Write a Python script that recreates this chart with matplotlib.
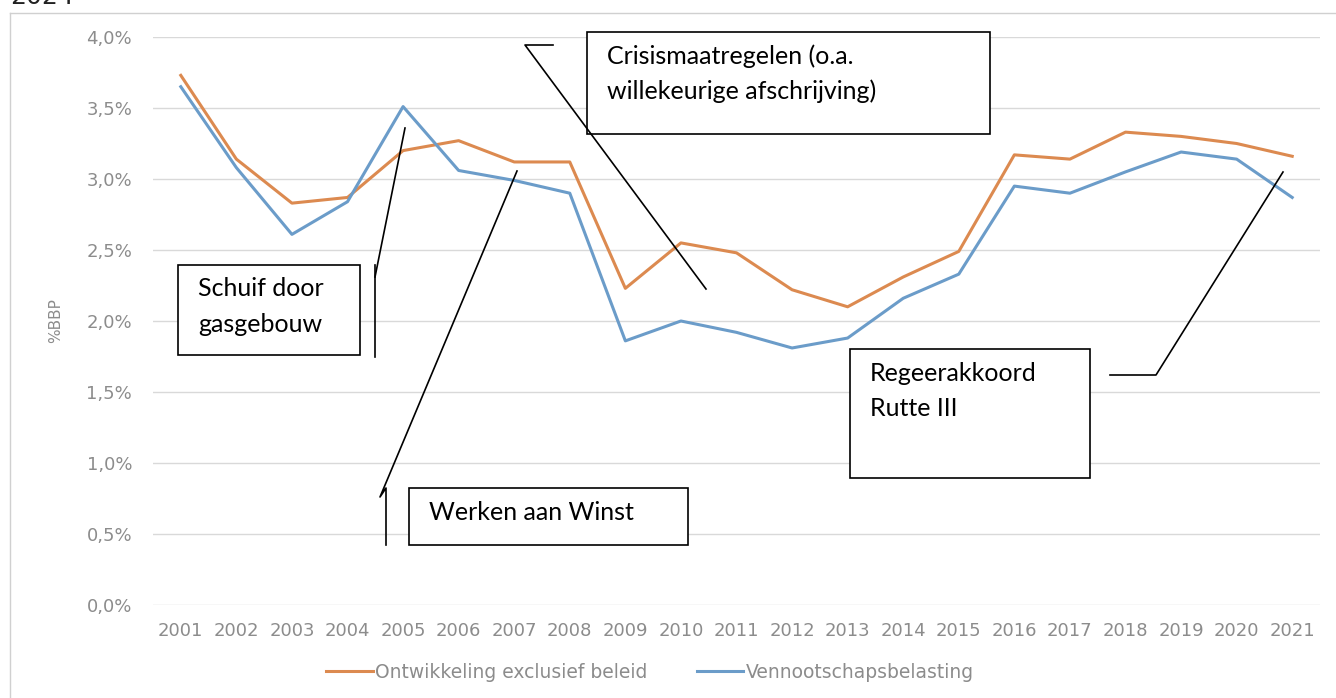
import matplotlib
matplotlib.use("Agg")
import matplotlib.pyplot as plt
import matplotlib.patches as mpatches
from matplotlib.lines import Line2D
from matplotlib.ticker import FuncFormatter

years = [str(y) for y in range(2001, 2022)]
exclusief_beleid = [3.73, 3.14, 2.83, 2.87, 3.20, 3.27, 3.12, 3.12, 2.23, 2.55, 2.48,
                    2.22, 2.10, 2.31, 2.49, 3.17, 3.14, 3.33, 3.30, 3.25, 3.16]
vpb = [3.65, 3.08, 2.61, 2.84, 3.51, 3.06, 2.99, 2.90, 1.86, 2.00, 1.92,
       1.81, 1.88, 2.16, 2.33, 2.95, 2.90, 3.05, 3.19, 3.14, 2.87]
series_names = ["Ontwikkeling exclusief beleid", "Vennootschapsbelasting"]
yticks = [0.0, 0.5, 1.0, 1.5, 2.0, 2.5, 3.0, 3.5, 4.0]

W, H = 1336, 698
ORANGE = "#dc8a50"
BLUE = "#6b9cc9"
GREY = "#8c8c8c"

fig = plt.figure(figsize=(W / 100, H / 100), dpi=100)


def fx(x):
    return x / W


def fy(y):
    return 1 - y / H


ax = fig.add_axes([fx(153), fy(605), fx(1320) - fx(153), fy(37) - fy(605)])
x = range(len(years))
ax.plot(x, exclusief_beleid, color=ORANGE, lw=2.2, label=series_names[0], zorder=3)
ax.plot(x, vpb, color=BLUE, lw=2.2, label=series_names[1], zorder=3)
ax.set_xlim(-0.5, len(years) - 0.5)
ax.set_ylim(0, 4.0)
ax.set_yticks(yticks)
ax.yaxis.set_major_formatter(FuncFormatter(lambda v, p: f"{v:.1f}%".replace(".", ",")))
ax.set_xticks(list(x))
ax.set_xticklabels(years)
ax.grid(axis="y", color="#d9d9d9", lw=1)
ax.set_axisbelow(True)
for s in ax.spines.values():
    s.set_visible(False)
ax.tick_params(axis="both", length=0, colors=GREY, labelsize=13)
ax.tick_params(axis="y", pad=15)
ax.tick_params(axis="x", pad=12)
ax.set_ylabel("%BBP", color=GREY, fontsize=11, labelpad=4)
ax.yaxis.set_label_coords(-0.077, 0.5)

fig.legend(loc="center", bbox_to_anchor=(fx(650), fy(672)), ncol=2, frameon=False,
           fontsize=13.5, handlelength=2.5, handletextpad=0.15, columnspacing=2.6,
           labelcolor=GREY)

# outer frame and clipped title
fig.add_artist(Line2D([fx(10), fx(10)], [fy(13), fy(698)], color="#d0d0d0", lw=1))
fig.add_artist(Line2D([fx(10), fx(1336)], [fy(13), fy(13)], color="#d0d0d0", lw=1))
fig.text(fx(10), fy(4), "2024", fontsize=18, va="baseline", ha="left", color="#222222")

# annotation boxes
boxes = [
    (587, 32, 990, 134, ["Crisismaatregelen (o.a.", "willekeurige afschrijving)"]),
    (178, 265, 360, 355, ["Schuif door", "gasgebouw"]),
    (409, 488, 688, 545, ["Werken aan Winst"]),
    (850, 349, 1090, 478, ["Regeerakkoord", "Rutte III"]),
]
for x0, y0, x1, y1, lines in boxes:
    fig.add_artist(mpatches.Rectangle((fx(x0), fy(y1)), fx(x1) - fx(x0), fy(y0) - fy(y1),
                                      facecolor="white", edgecolor="black", lw=1.2, zorder=5))
    for i, t in enumerate(lines):
        fig.text(fx(x0 + 20), fy(y0 + 24 + 35 * i), t, fontsize=18, family="Lato",
                 va="center", ha="left", color="black", zorder=6)

callouts = [
    [(553, 45), (525, 45), (706, 289)],
    [(375, 357), (375, 265)],
    [(375, 277), (405, 128)],
    [(386, 545), (386, 488), (380, 497), (517, 171)],
    [(1110, 375), (1156, 375), (1283, 172)],
]
for pts in callouts:
    fig.add_artist(Line2D([fx(p[0]) for p in pts], [fy(p[1]) for p in pts],
                          color="black", lw=1.2, zorder=6))

fig.savefig("out.png", dpi=100)
